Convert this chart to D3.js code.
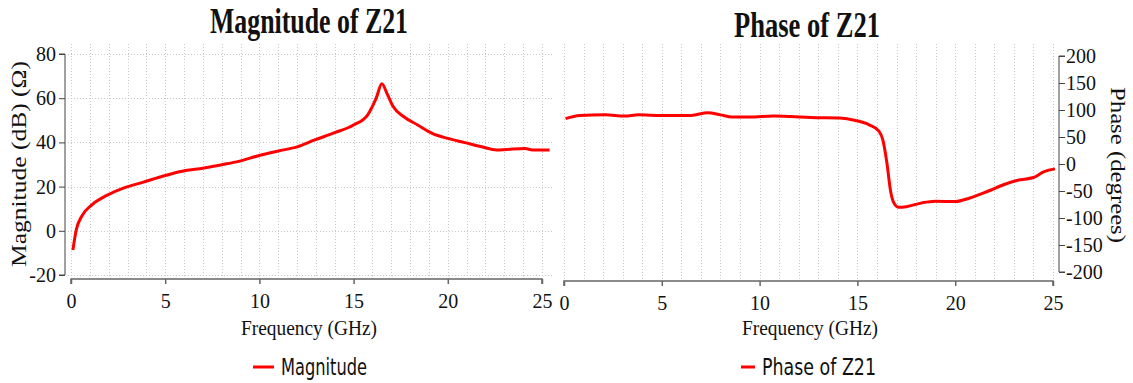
<!DOCTYPE html>
<html>
<head>
<meta charset="utf-8">
<script src="https://cdn.jsdelivr.net/npm/d3@7"></script>
<style>
  body { margin: 0; background: #fff; }
  svg { display: block; }
</style>
</head>
<body>
<div id="chart"></div>
<script>
// Magnitude of Z21 (dB) vs frequency (GHz)
const magFreq = [0.1, 0.28, 0.57, 1.14, 1.9, 2.85, 3.8, 5, 6.07, 7, 8, 8.9, 10, 11, 12, 12.9, 14, 15, 15.75, 16.2, 16.5, 16.8, 17.1, 17.65, 18.4, 19.2, 20, 20.9, 21.8, 22.6, 23.1, 24.1, 24.5, 25.4];
const magnitude = [-8.7, 0.5, 6.6, 12, 16, 19.5, 21.9, 25, 27.3, 28.3, 29.9, 31.4, 34.1, 36.1, 38, 41, 44.4, 47.9, 52.5, 60, 66.5, 61.6, 56.2, 51.7, 47.9, 44, 41.8, 39.9, 38, 36.6, 36.8, 37.2, 36.6, 36.6];

// Phase of Z21 (degrees) vs frequency (GHz)
const phaseFreq = [0.08, 0.8, 2.1, 3.1, 3.8, 5, 6.5, 7.35, 8, 8.6, 9.5, 10.7, 11.6, 12.6, 14.1, 14.9, 15.6, 16.1, 16.3, 16.5, 16.7, 16.85, 17.1, 17.5, 18.3, 19, 20, 20.75, 21.7, 22.5, 23.2, 24, 24.55, 25.1];
const phase = [84, 90, 91, 89, 91, 90, 90, 95, 91, 87, 87, 89, 88, 86, 85, 80.6, 72.6, 61, 44.7, 4, -51, -71, -80, -79, -72, -69, -69.5, -63, -50, -38, -30, -25, -14, -9];

const freqTicks = [0, 5, 10, 15, 20, 25];
const magTicks = [-20, 0, 20, 40, 60, 80];
const phaseTicks = [-200, -150, -100, -50, 0, 50, 100, 150, 200];

const W = 1133, H = 383;
const svg = d3.select('#chart').append('svg').attr('width', W).attr('height', H);

const serif = '"Liberation Serif", "Times New Roman", serif';
const sans = '"DejaVu Sans", Verdana, sans-serif';

// squeezed text, like the original narrow rendering
const label = (g, txt, opt) => {
  const t = g.append('text')
    .attr('x', opt.x).attr('y', opt.y)
    .attr('text-anchor', opt.anchor || 'middle')
    .attr('font-family', opt.font || serif)
    .attr('font-size', opt.size)
    .attr('font-weight', opt.weight || 'normal')
    .attr('fill', '#111')
    .text(txt);
  if (opt.len) t.attr('textLength', opt.len).attr('lengthAdjust', 'spacingAndGlyphs');
  if (opt.rotate) t.attr('transform', `rotate(${opt.rotate},${opt.x},${opt.y})`);
  return t;
};

const drawPanel = (p) => {
  const g = svg.append('g');
  const x = d3.scaleLinear().domain([0, 25]).range([p.x0, p.x1]);
  const y = d3.scaleLinear().domain(p.yDomain).range([p.yBottom, p.yTop]);

  // dotted grid
  const grid = g.append('g').attr('stroke', '#c8c8c8').attr('stroke-width', 1).attr('stroke-dasharray', '1,2');
  grid.selectAll('line.v').data(d3.range(0, 26)).enter().append('line')
    .attr('x1', d => Math.round(x(d)) + 0.5).attr('x2', d => Math.round(x(d)) + 0.5)
    .attr('y1', p.gridTop).attr('y2', p.gridBottom);
  if (p.hGrid) {
    grid.selectAll('line.h').data(p.yTicks).enter().append('line')
      .attr('y1', d => Math.round(y(d)) + 0.5).attr('y2', d => Math.round(y(d)) + 0.5)
      .attr('x1', p.gridLeft).attr('x2', p.gridRight);
  }

  // x axis
  const xAxis = g.append('g').attr('transform', `translate(0,${p.xAxisY})`);
  xAxis.call(d3.axisBottom(x).tickValues(d3.range(0, 26)).tickSize(5).tickFormat(''));
  xAxis.call(d3.axisBottom(x).tickValues(freqTicks).tickSize(5).tickFormat(d => String(d)));
  xAxis.selectAll('path, line').attr('stroke', '#666').attr('stroke-width', 1.5);
  xAxis.select('.domain').attr('d', `M${p.x0},5V0H${p.x1}V5`);
  xAxis.selectAll('text').attr('font-family', serif).attr('font-size', 20).attr('fill', '#111').attr('dy', '1.05em');

  // y axis
  const yg = g.append('g').attr('transform', `translate(${p.yAxisX},0)`);
  const mk = p.side === 'left' ? d3.axisLeft : d3.axisRight;
  yg.call(mk(y).tickValues(d3.range(p.yDomain[0], p.yDomain[1] + 0.1, p.minor)).tickSize(3).tickFormat(''));
  yg.call(mk(y).tickValues(p.yTicks).tickSize(6).tickFormat(d => String(d)));
  yg.selectAll('path, line').attr('stroke', '#444').attr('stroke-width', 1);
  yg.select('.domain').attr('d', p.side === 'left'
    ? `M-6,${p.yTop}H0V${p.yBottom}H-6` : `M6,${p.yTop}H0V${p.yBottom}H6`);
  yg.selectAll('text').attr('font-family', serif).attr('font-size', 20).attr('fill', '#111')
    .attr('x', p.side === 'left' ? -9 : 7);

  // curve
  const line = d3.line().x(d => x(d[0])).y(d => y(d[1])).curve(d3.curveMonotoneX);
  g.append('path').datum(d3.zip(p.freq, p.values))
    .attr('d', line).attr('fill', 'none').attr('stroke', '#ff0000')
    .attr('stroke-width', 3).attr('stroke-linejoin', 'round');

  // texts
  label(g, p.title, { x: p.titleX, y: p.titleY, size: 36, weight: 'bold', len: p.titleLen });
  label(g, 'Frequency (GHz)', { x: p.xLabelX, y: 335, size: 22, len: 136 });
  label(g, p.yLabel, { x: p.yLabelX, y: p.yLabelY, size: 22, len: p.yLabelLen, rotate: p.side === 'left' ? -90 : 90 });

  // legend
  g.append('line').attr('x1', p.legX).attr('x2', p.legX + p.legLine)
    .attr('y1', 367).attr('y2', 367).attr('stroke', '#ff0000').attr('stroke-width', 3);
  label(g, p.legText, { x: p.legX + p.legLine + 7, y: 375, size: 23, font: sans, anchor: 'start', len: p.legLen });
};

drawPanel({
  x0: 71, x1: 542, yDomain: [-20, 80], yTop: 54, yBottom: 275, yTicks: magTicks, minor: 5,
  gridTop: 44, gridBottom: 277, gridLeft: 68, gridRight: 552, hGrid: true,
  xAxisY: 279, yAxisX: 65, side: 'left',
  freq: magFreq, values: magnitude,
  title: 'Magnitude of Z21', titleX: 309, titleY: 33, titleLen: 198,
  xLabelX: 309, yLabel: 'Magnitude (dB) (\u03A9)', yLabelX: 26, yLabelY: 164, yLabelLen: 206,
  legX: 253, legLine: 21, legText: 'Magnitude', legLen: 86
});

drawPanel({
  x0: 564, x1: 1053, yDomain: [-200, 200], yTop: 56, yBottom: 272, yTicks: phaseTicks, minor: 10,
  gridTop: 44, gridBottom: 279, gridLeft: 562, gridRight: 1058, hGrid: false,
  xAxisY: 281, yAxisX: 1059, side: 'right',
  freq: phaseFreq, values: phase,
  title: 'Phase of Z21', titleX: 807, titleY: 37, titleLen: 146,
  xLabelX: 810, yLabel: 'Phase (degrees)', yLabelX: 1111, yLabelY: 165, yLabelLen: 156,
  legX: 741, legLine: 14, legText: 'Phase of Z21', legLen: 114
});
</script>
</body>
</html>
